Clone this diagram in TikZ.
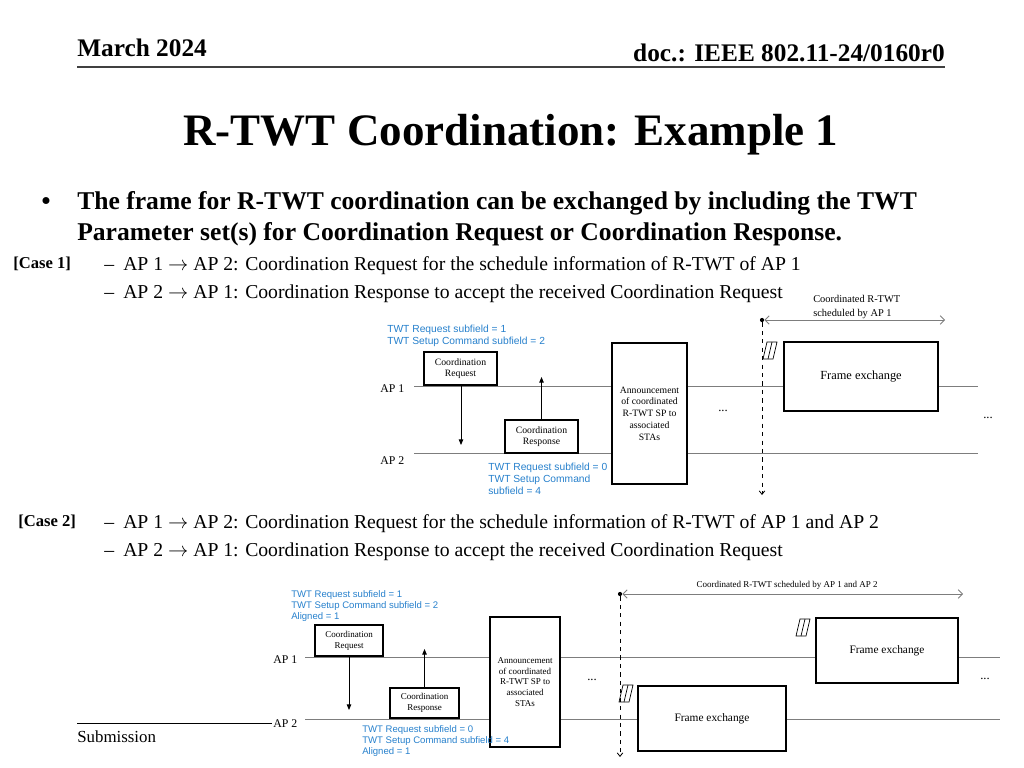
\documentclass[tikz,border=0pt]{standalone}
\usepackage{fontspec}
\setmainfont{Liberation Serif}
\setsansfont{Liberation Sans}
\usetikzlibrary{backgrounds}
\usetikzlibrary{calc}
\usetikzlibrary{arrows.meta}
\definecolor{twtblue}{RGB}{38,128,204}
\definecolor{apgray}{RGB}{125,125,125}
\newcommand{\pxu}{0.025cm}
\newcommand{\toap}{\ensuremath{\rightarrow}}
\newcommand{\hdrfont}{\fontsize{18}{20}\selectfont\bfseries}
\newcommand{\titlefont}{\fontsize{32}{36}\selectfont\bfseries}
\newcommand{\bulletfont}{\fontsize{18.2}{22}\selectfont\bfseries}
\newcommand{\casefont}{\fontsize{14}{16}\selectfont}
\newcommand{\tagfont}{\fontsize{11.8}{13}\selectfont\bfseries}
\newcommand{\boxfontA}{\fontsize{6.9}{8.3}\selectfont}
\newcommand{\boxfontB}{\fontsize{6.4}{7.7}\selectfont}
\newcommand{\noteA}{\fontsize{7.3}{8.6}\selectfont\sffamily}
\newcommand{\noteB}{\fontsize{6.8}{7.9}\selectfont\sffamily}
\tikzset{
  framebox/.style={draw,line width=0.8pt,fill=white,align=center,inner sep=0pt},
  apline/.style={apgray,line width=0.7pt},
  msgarrow/.style={-{Triangle[length=4pt,width=3.2pt]},line width=0.6pt},
  spanarrow/.style={{Straight Barb[length=3pt,width=6pt]}-{Straight Barb[length=3pt,width=6pt]},apgray,line width=0.6pt},
  markline/.style={dashed,line width=0.6pt,-{Straight Barb[length=2.5pt,width=4pt]}},
  markdot/.style={circle,fill,inner sep=0pt,minimum size=3pt},
  twtnote/.style={twtblue,anchor=base west,inner sep=0pt},
  plain/.style={anchor=base west,inner sep=0pt},
  hatchmark/.pic={
    \draw[line width=0.5pt] (0,0) -- (4,-17) -- (14,-17) -- (10,0) -- cycle;
    \draw[line width=0.5pt] (5,0) -- (9,-17);
  },
}

\begin{document}
\begin{tikzpicture}[x=0.025cm,y=-0.025cm]
  \useasboundingbox (0,0) rectangle (1024,768);
  % header
  \node[plain,font=\hdrfont] (date) at (77,57) {March 2024};
  \node[anchor=base east,inner sep=0pt,font=\hdrfont] (docno) at (945,62) {doc.: IEEE 802.11-24/0160r0};
  \coordinate (rulel) at (77,67);
  \coordinate (ruler) at (945,67);
  \draw[line width=1.4pt,black!75] (rulel) -- (ruler);
  \node[anchor=base,inner sep=0pt,font=\titlefont] (title) at (511,146) {R-TWT Coordination: Example 1};
  % bullet
  \node[anchor=base,inner sep=0pt,font=\bulletfont] (bul) at (46,209) {\textbullet};
  \node[plain,font=\bulletfont] (introa) at (77,209) {The frame for R-TWT coordination can be exchanged by including the TWT};
  \node[plain,font=\bulletfont] (introb) at (77,240) {Parameter set(s) for Coordination Request or Coordination Response.};
  % case 1 text
  \node[plain,font=\tagfont] (tagA) at (13,268) {[Case 1]};
  \node[plain,font=\casefont] (dashAa) at (104,270) {–};
  \node[plain,font=\casefont] (caseAa) at (123,270) {AP 1 \toap{} AP 2: Coordination Request for the schedule information of R-TWT of AP 1};
  \node[plain,font=\casefont] (dashAb) at (104,298) {–};
  \node[plain,font=\casefont] (caseAb) at (123,298) {AP 2 \toap{} AP 1: Coordination Response to accept the received Coordination Request};
  % case 2 text
  \node[plain,font=\tagfont] (tagB) at (18,526) {[Case 2]};
  \node[plain,font=\casefont] (dashBa) at (104,528) {–};
  \node[plain,font=\casefont] (caseBa) at (123,528) {AP 1 \toap{} AP 2: Coordination Request for the schedule information of R-TWT of AP 1 and AP 2};
  \node[plain,font=\casefont] (dashBb) at (104,556) {–};
  \node[plain,font=\casefont] (caseBb) at (123,556) {AP 2 \toap{} AP 1: Coordination Response to accept the received Coordination Request};

  % ---- case 1 diagram ----
  \node[framebox,font=\boxfontA,minimum width=73*\pxu,minimum height=33*\pxu] (reqA) at (460.5,368.5) {Coordination\\Request};
  \node[framebox,font=\boxfontA,minimum width=73*\pxu,minimum height=33*\pxu] (respA) at (541.5,436.5) {Coordination\\Response};
  \node[framebox,font=\boxfontA,minimum width=75*\pxu,minimum height=141*\pxu] (annA) at (649.5,413.5) {Announcement\\of coordinated\\R-TWT SP to\\associated\\STAs};
  \node[framebox,font=\fontsize{8.8}{10}\selectfont,minimum width=154*\pxu,minimum height=69*\pxu] (fxA) at (861,376.5) {Frame exchange};
  \node[plain,font=\fontsize{8.4}{10}\selectfont] (apAa) at (380,392) {AP 1};
  \node[plain,font=\fontsize{8.4}{10}\selectfont] (apAb) at (380,464) {AP 2};
  \node[font=\fontsize{9}{10}\selectfont] (dotsAa) at (723,411) {...};
  \node[font=\fontsize{9}{10}\selectfont] (dotsAb) at (988,418) {...};
  \node[twtnote,font=\noteA] (noteAa) at (387,332) {TWT Request subfield = 1};
  \node[twtnote,font=\noteA] (noteAb) at (387,344) {TWT Setup Command subfield = 2};
  \node[twtnote,font=\noteA] (noteAc) at (488,470) {TWT Request subfield = 0};
  \node[twtnote,font=\noteA] (noteAd) at (488,482) {TWT Setup Command};
  \node[twtnote,font=\noteA] (noteAe) at (488,494) {subfield = 4};
  \coordinate (downA) at (461,445);
  \coordinate (upA) at (541.5,377);
  \draw[msgarrow] (reqA.south -| downA) -- (downA);
  \draw[msgarrow] (respA.north) -- (upA);
  % schedule mark
  \node[markdot] (topA) at (762,320) {};
  \coordinate (botA) at (762,495);
  \coordinate (endA) at (945,320);
  \draw[markline] (topA) -- (botA);
  \draw[spanarrow] (topA) -- (endA);
  \node[plain,font=\fontsize{7.4}{9}\selectfont] (spanAa) at (813,302) {Coordinated R-TWT};
  \node[plain,font=\fontsize{7.4}{9}\selectfont] (spanAb) at (813,316) {scheduled by AP 1};
  \pic at (763,359) {hatchmark};
  \begin{scope}[on background layer]
    % ap lines
    \coordinate (lineAas) at (414,386);
    \coordinate (lineAae) at (978,386);
    \coordinate (lineAbs) at (414,453);
    \coordinate (lineAbe) at (978,453);
    \draw[apline] (lineAas) -- (lineAae);
    \draw[apline] (lineAbs) -- (lineAbe);
  \end{scope}

  % ---- case 2 diagram ----
  \node[framebox,font=\boxfontB,minimum width=68*\pxu,minimum height=31*\pxu] (reqB) at (349,640.5) {Coordination\\Request};
  \node[framebox,font=\boxfontB,minimum width=69*\pxu,minimum height=30*\pxu] (respB) at (424.5,703) {Coordination\\Response};
  \node[framebox,font=\boxfontB,minimum width=70*\pxu,minimum height=130*\pxu] (annB) at (525,682) {Announcement\\of coordinated\\R-TWT SP to\\associated\\STAs};
  \node[framebox,font=\fontsize{8.1}{10}\selectfont,minimum width=142*\pxu,minimum height=65*\pxu] (fxBa) at (887,650.5) {Frame exchange};
  \node[framebox,font=\fontsize{8.1}{10}\selectfont,minimum width=148*\pxu,minimum height=65*\pxu] (fxBb) at (712,718.5) {Frame exchange};
  \node[plain,font=\fontsize{8.4}{10}\selectfont] (apBa) at (273,663) {AP 1};
  \node[plain,font=\fontsize{8.4}{10}\selectfont] (apBb) at (273,727) {AP 2};
  \node[font=\fontsize{9}{10}\selectfont] (dotsBa) at (592,680) {...};
  \node[font=\fontsize{9}{10}\selectfont] (dotsBb) at (985,679) {...};
  \node[twtnote,font=\noteB] (noteBa) at (291,597) {TWT Request subfield = 1};
  \node[twtnote,font=\noteB] (noteBb) at (291,608) {TWT Setup Command subfield = 2};
  \node[twtnote,font=\noteB] (noteBc) at (291,619) {Aligned = 1};
  \node[twtnote,font=\noteB] (noteBd) at (362,732) {TWT Request subfield = 0};
  \node[twtnote,font=\noteB] (noteBe) at (362,743) {TWT Setup Command subfield = 4};
  \node[twtnote,font=\noteB] (noteBf) at (362,754) {Aligned = 1};
  \coordinate (downB) at (349,710);
  \coordinate (upB) at (424.5,649);
  \draw[msgarrow] (reqB.south) -- (downB);
  \draw[msgarrow] (respB.north) -- (upB);
  % schedule mark
  \node[markdot] (topB) at (620,594) {};
  \coordinate (botB) at (620,757);
  \coordinate (endB) at (963,594);
  \draw[markline] (topB) -- (botB);
  \draw[spanarrow] (topB) -- (endB);
  \node[anchor=base,inner sep=0pt,font=\fontsize{6.4}{8}\selectfont] (spanB) at (787,587) {Coordinated R-TWT scheduled by AP 1 and AP 2};
  \pic at (796,636) {hatchmark};
  \pic at (619,702) {hatchmark};
  \begin{scope}[on background layer]
    % ap lines
    \coordinate (lineBas) at (305,657);
    \coordinate (lineBae) at (1000,657);
    \coordinate (lineBbs) at (305,719);
    \coordinate (lineBbe) at (1000,719);
    \draw[apline] (lineBas) -- (lineBae);
    \draw[apline] (lineBbs) -- (lineBbe);
  \end{scope}

  % footer
  \coordinate (footl) at (77,723);
  \coordinate (footr) at (272,723);
  \draw[line width=0.7pt] (footl) -- (footr);
  \node[plain,font=\fontsize{12}{14}\selectfont] (footer) at (77,742) {Submission};
\end{tikzpicture}
\end{document}
